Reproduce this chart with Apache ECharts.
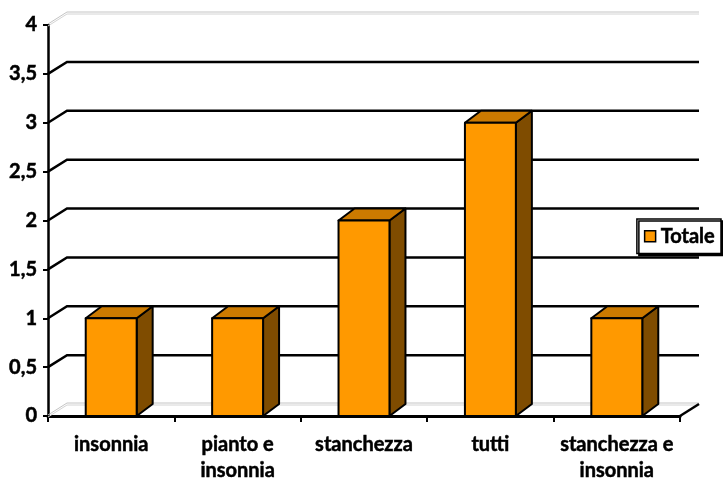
<!DOCTYPE html>
<html>
<head>
<meta charset="utf-8">
<style>
  html, body { margin: 0; padding: 0; background: #fff; }
  #chart { width: 723px; height: 481px; }
</style>
<script src="https://cdn.jsdelivr.net/npm/echarts@6/dist/echarts.min.js"></script>
</head>
<body>
<div id="chart"></div>
<script>
// Chart data
const categories = ['insonnia', 'pianto e\ninsonnia', 'stanchezza', 'tutti', 'stanchezza e\ninsonnia'];
const totale = [1, 1, 2, 3, 1];
const yTicks = [0, 0.5, 1, 1.5, 2, 2.5, 3, 3.5, 4];

// Depth of the 3D box (walls) and of the bars, in pixels
const WALL_DX = 19, WALL_DY = -12;
const BAR_DX = 16, BAR_DY = -12;
const BAR_RATIO = 0.403;

const FONT = 'Lato';
// a thin outline in the text colour makes the bold labels a touch heavier
const HEAVY = { textBorderColor: '#000', textBorderWidth: 0.5 };

function grayDouble(points) {
  const a = points.map(p => [p[0], p[1] - 1]);
  const b = points.map(p => [p[0], p[1] + 1]);
  return [
    { type: 'polyline', shape: { points: a }, style: { fill: null, stroke: '#c4c4c4', lineWidth: 1 } },
    { type: 'polyline', shape: { points: b }, style: { fill: null, stroke: '#d4d4d4', lineWidth: 1 } }
  ];
}

// Back wall gridlines, side wall diagonals and the floor
function renderWall(params, api) {
  const v = api.value(1);
  const cs = params.coordSys;
  const y = api.coord([0, v])[1];
  const x0 = cs.x, x1 = cs.x + cs.width;
  const pts = [[x0, y], [x0 + WALL_DX, y + WALL_DY], [x1 + WALL_DX, y + WALL_DY]];
  const children = [];
  if (v === yTicks[0]) {
    children.push(...grayDouble(pts));
    children.push({ type: 'line', shape: { x1: x1, y1: y, x2: x1 + WALL_DX, y2: y + WALL_DY },
      style: { stroke: '#000', lineWidth: 2.5 } });
  } else if (v === yTicks[yTicks.length - 1]) {
    children.push(...grayDouble(pts));
  } else {
    children.push({ type: 'polyline', shape: { points: pts },
      style: { fill: null, stroke: '#000', lineWidth: 2.5 } });
  }
  return { type: 'group', children: children };
}

// 3D bar: front face, top face, right side face
function renderBar(params, api) {
  const i = api.value(0), v = api.value(1);
  const top = api.coord([i, v]);
  const base = api.coord([i, 0]);
  const w = api.size([1, 0])[0] * BAR_RATIO;
  const xl = top[0] - w / 2, xr = top[0] + w / 2;
  const yt = top[1], yb = base[1];
  const stroke = { stroke: '#000', lineWidth: 2, lineJoin: 'round' };
  return {
    type: 'group',
    children: [
      { type: 'polygon', shape: { points: [[xr, yt], [xr + BAR_DX, yt + BAR_DY], [xr + BAR_DX, yb + BAR_DY], [xr, yb]] },
        style: Object.assign({ fill: '#7f4c00' }, stroke) },
      { type: 'polygon', shape: { points: [[xl, yt], [xl + BAR_DX, yt + BAR_DY], [xr + BAR_DX, yt + BAR_DY], [xr, yt]] },
        style: Object.assign({ fill: '#cc7a00' }, stroke) },
      { type: 'rect', shape: { x: xl, y: yt, width: w, height: yb - yt },
        style: Object.assign({ fill: '#ff9900' }, stroke) }
    ]
  };
}

const chart = echarts.init(document.getElementById('chart'), null, { renderer: 'canvas' });

chart.setOption({
  animation: false,
  backgroundColor: '#ffffff',
  textStyle: { fontFamily: FONT },
  grid: { left: 48, right: 43, top: 25, bottom: 65, containLabel: false, outerBoundsMode: 'none' },
  legend: {
    data: ['Totale'],
    right: 2,
    top: 219,
    orient: 'vertical',
    icon: 'rect',
    itemWidth: 11,
    itemHeight: 11,
    itemGap: 0,
    padding: [7, 6, 7, 7],
    backgroundColor: '#fff',
    borderColor: '#000',
    borderWidth: 1.5,
    borderRadius: 0,
    shadowColor: '#000',
    shadowOffsetX: 2,
    shadowOffsetY: 2,
    shadowBlur: 0,
    itemStyle: { color: '#ff9900', borderColor: '#000', borderWidth: 1.5 },
    textStyle: Object.assign({ fontFamily: FONT, fontWeight: 'bold', fontSize: 20, color: '#000' }, HEAVY)
  },
  xAxis: {
    type: 'category',
    data: categories,
    boundaryGap: true,
    axisLine: { show: true, lineStyle: { color: '#000', width: 3 } },
    axisTick: { show: true, length: 6, lineStyle: { color: '#000', width: 2 } },
    axisLabel: Object.assign({
      color: '#000', fontFamily: FONT, fontWeight: 'bold', fontSize: 20,
      lineHeight: 26, margin: 16, interval: 0
    }, HEAVY),
    splitLine: { show: false }
  },
  yAxis: {
    type: 'value',
    min: 0,
    max: 4,
    interval: 0.5,
    axisLine: { show: true, lineStyle: { color: '#000', width: 2.5 } },
    axisTick: { show: true, length: 5, lineStyle: { color: '#000', width: 2 } },
    axisLabel: Object.assign({
      color: '#000', fontFamily: FONT, fontWeight: 'bold', fontSize: 20, margin: 11,
      formatter: v => String(v).replace('.', ',')
    }, HEAVY),
    splitLine: { show: false }
  },
  series: [
    {
      name: 'walls',
      type: 'custom',
      renderItem: renderWall,
      data: yTicks.map(v => [0, v]),
      encode: { x: 0, y: 1 },
      z: 1,
      silent: true
    },
    {
      name: 'Totale',
      type: 'custom',
      renderItem: renderBar,
      data: totale.map((v, i) => [i, v]),
      encode: { x: 0, y: 1 },
      itemStyle: { color: '#ff9900', borderColor: '#000', borderWidth: 1.5 },
      z: 3
    }
  ]
});
</script>
</body>
</html>
